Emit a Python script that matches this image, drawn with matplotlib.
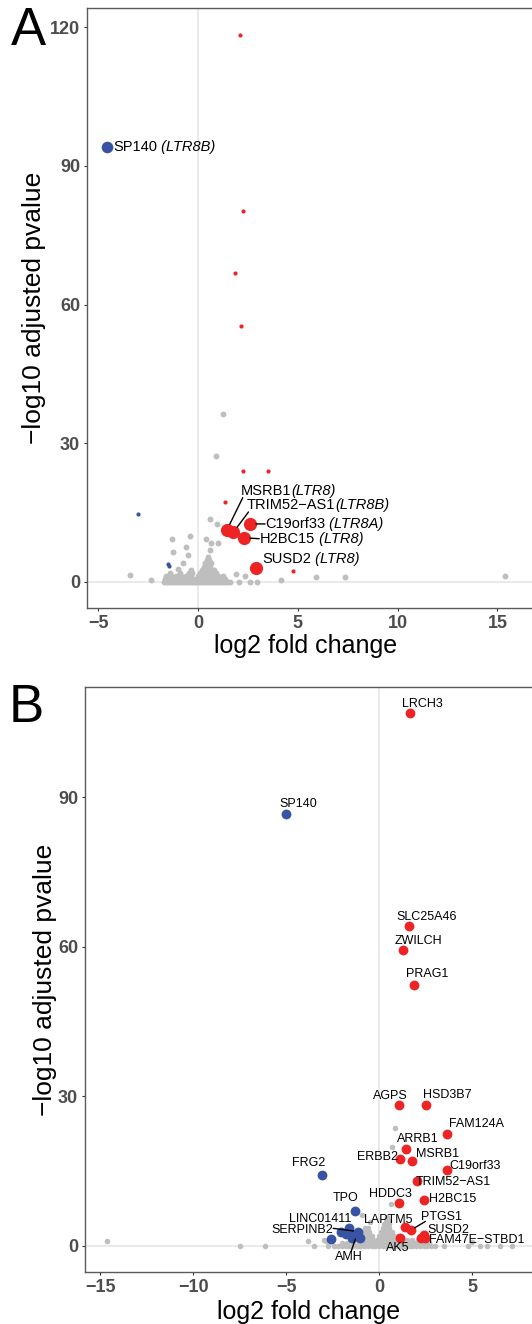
import matplotlib
matplotlib.use("Agg")
import matplotlib.pyplot as plt

plt.rcParams['font.family'] = ['Liberation Sans', 'DejaVu Sans']

RED = '#ee2324'
BLUE = '#3953a4'
GREY = '#bebebe'
TICK_GREY = '#4d4d4d'

# ---------------- panel A data ----------------
a_grey = [(-3.39, 1.4), (-2.35, 0.4), (-1.30, 9.3), (-1.27, 6.5), (-0.99, 2.7),
          (-0.77, 4.0), (-0.62, 7.6), (-0.50, 5.8), (-0.40, 9.8), (0.40, 9.3),
          (0.60, 6.9), (0.67, 8.4), (0.67, 4.0), (0.92, 27.2), (0.95, 12.4),
          (1.00, 8.4), (0.60, 13.6), (1.25, 36.4), (1.89, 1.7), (2.07, 0.0),
          (2.35, 1.2), (2.60, 0.0), (2.94, 0.0), (4.14, 0.4), (5.90, 1.0),
          (7.38, 1.0), (15.38, 1.2)]
a_cloud = [(-1.7, 0), (-1.6, 0), (-1.5, 0), (-1.4, 0), (-1.3, 0), (-1.2, 0), (-1.1, 0),
           (-1.0, 0), (-0.9, 0), (-0.8, 0), (-0.7, 0), (-0.6, 0), (-0.5, 0), (-0.4, 0),
           (-0.3, 0), (-0.2, 0), (-0.1, 0), (0.0, 0), (0.1, 0), (0.2, 0), (0.3, 0),
           (0.4, 0), (0.5, 0), (0.6, 0), (0.7, 0), (0.8, 0), (0.9, 0), (1.0, 0),
           (1.1, 0), (1.2, 0), (1.3, 0), (1.4, 0), (1.5, 0), (1.6, 0),
           (-1.65, 0.6), (-1.45, 0.6), (-1.25, 0.6), (-1.05, 0.6), (-0.85, 0.6),
           (-0.65, 0.6), (-0.45, 0.6), (-0.25, 0.6), (-0.05, 0.6), (0.15, 0.6),
           (0.35, 0.6), (0.55, 0.6), (0.75, 0.6), (0.95, 0.6), (1.15, 0.6), (1.35, 0.6),
           (-1.6, 1.2), (-1.35, 1.2), (-1.1, 1.2), (-0.85, 1.2), (-0.6, 1.2), (-0.35, 1.2),
           (0.0, 1.2), (0.2, 1.2), (0.4, 1.2), (0.6, 1.2), (0.8, 1.2), (1.0, 1.2), (1.25, 1.2),
           (-1.4, 1.8), (-0.9, 1.8), (-0.45, 1.8), (-0.3, 1.8), (0.1, 1.8), (0.3, 1.8),
           (0.5, 1.8), (0.7, 1.8), (0.9, 1.8),
           (-0.35, 2.5), (0.2, 2.5), (0.35, 2.5), (0.5, 2.5), (0.65, 2.5), (0.8, 2.5),
           (0.3, 3.2), (0.45, 3.2), (0.6, 3.2), (0.35, 4.0), (0.5, 4.0), (0.62, 4.0),
           (0.45, 4.8), (0.55, 4.8), (0.5, 5.4)]
a_red_x = [2.12, 2.27, 1.84, 2.14, 2.24, 3.52, 1.37, 4.74]
a_red_y = [118.4, 80.2, 66.9, 55.4, 24.0, 24.0, 17.3, 2.4]
a_blue_x = [-2.99, -1.52, -1.47]
a_blue_y = [14.6, 3.8, 3.3]

a_genes = ['SP140', 'MSRB1', 'TRIM52\u2212AS1', 'C19orf33', 'H2BC15', 'SUSD2']
a_te = [' (LTR8B)', '(LTR8)', '(LTR8B)', ' (LTR8A)', ' (LTR8)', ' (LTR8)']
a_hit_x = [-4.57, 1.45, 1.77, 2.59, 2.30, 2.91]
a_hit_y = [94.1, 11.2, 10.7, 12.5, 9.5, 3.0]
a_lab_x = [-4.26, 2.14, 2.44, 3.36, 3.07, 3.22]
a_lab_y = [94.1, 19.7, 16.6, 12.5, 9.3, 4.9]
a_leader = [None, (0.04, 0.0), (0.02, 0.0), (0.0, 0.5), (0.0, 0.5), None]

# ---------------- panel B data ----------------
b_grey = [(-14.66, 1.0), (-7.46, 0.0), (-6.14, 0.0), (-3.84, 1.1), (-3.50, 0.0),
          (-2.95, 1.2), (-2.85, 1.1), (-2.73, 0.0), (-0.93, 6.2), (-0.48, 4.8),
          (0.63, 8.4), (0.68, 19.9), (0.86, 23.7), (3.52, 0.0), (4.81, 0.0),
          (4.99, 0.7), (5.44, 0.0), (5.80, 0.0), (6.51, 0.0), (7.14, 0.0)]
b_cloud = [(-2.4, 0), (-2.2, 0), (-2.0, 0), (-1.8, 0), (-1.6, 0), (-1.4, 0), (-1.2, 0),
           (-1.0, 0), (-0.8, 0), (-0.6, 0), (-0.4, 0), (-0.2, 0), (0.0, 0), (0.2, 0),
           (0.4, 0), (0.6, 0), (0.8, 0), (1.0, 0), (1.2, 0), (1.4, 0), (1.6, 0), (1.8, 0),
           (2.0, 0), (2.2, 0), (2.4, 0), (2.6, 0), (2.8, 0), (3.0, 0),
           (-2.0, 0.6), (-1.7, 0.6), (-1.4, 0.6), (-1.1, 0.6), (-0.9, 0.6), (-0.7, 0.6),
           (-0.5, 0.6), (-0.3, 0.6), (-0.1, 0.6), (0.1, 0.6), (0.3, 0.6), (0.5, 0.6),
           (0.7, 0.6), (0.9, 0.6), (1.1, 0.6), (1.3, 0.6), (1.5, 0.6), (1.7, 0.6),
           (1.9, 0.6), (2.1, 0.6), (2.3, 0.6), (2.5, 0.6), (2.7, 0.6),
           (-1.5, 1.3), (-1.2, 1.3), (-0.95, 1.3), (-0.75, 1.3), (-0.55, 1.3), (-0.35, 1.3),
           (-0.1, 1.3), (0.1, 1.3), (0.3, 1.3), (0.5, 1.3), (0.7, 1.3), (0.9, 1.3),
           (1.2, 1.3), (1.5, 1.3), (1.8, 1.3), (2.1, 1.3),
           (-1.0, 2.0), (-0.8, 2.0), (-0.6, 2.0), (-0.4, 2.0), (0.0, 2.0), (0.2, 2.0),
           (0.4, 2.0), (0.6, 2.0), (0.8, 2.0), (1.0, 2.0),
           (-0.85, 2.8), (-0.7, 2.8), (-0.55, 2.8), (0.1, 2.8), (0.3, 2.8), (0.5, 2.8), (0.7, 2.8),
           (-0.75, 3.6), (-0.6, 3.6), (0.2, 3.6), (0.4, 3.6), (0.55, 3.6),
           (0.25, 4.4), (0.4, 4.4), (0.55, 4.4), (0.35, 5.2), (0.5, 5.2), (0.42, 5.9)]

b_red_genes = ['LRCH3', 'SLC25A46', 'ZWILCH', 'PRAG1', 'AGPS', 'HSD3B7', 'FAM124A',
               'ARRB1', 'ERBB2', 'MSRB1', 'C19orf33', 'TRIM52\u2212AS1', 'HDDC3',
               'H2BC15', 'LAPTM5', 'PTGS1', 'SUSD2', 'FAM47E\u2212STBD1', 'AK5']
b_red_x = [1.65, 1.63, 1.31, 1.88, 1.08, 2.53, 3.66, 1.45, 1.15, 1.78, 3.64, 2.05,
           1.06, 2.44, 1.42, 1.72, 2.24, 2.48, 1.13]
b_red_y = [106.9, 64.3, 59.3, 52.4, 28.3, 28.3, 22.5, 19.5, 17.4, 17.1, 15.2, 13.0,
           8.7, 9.2, 3.9, 3.2, 1.7, 1.6, 1.7]
b_red_lab_x = [2.35, 2.54, 2.12, 2.60, 0.63, 3.67, 5.24, 2.11, -0.10, 3.15, 5.19, 4.00,
               0.61, 3.95, 0.48, 3.38, 3.73, 5.26, 1.00]
b_red_lab_y = [108.7, 66.1, 61.2, 54.6, 30.0, 30.3, 24.5, 21.5, 17.9, 18.4, 16.1, 12.9,
               10.4, 9.4, 5.2, 5.9, 3.3, 1.3, -0.5]
b_red_extra_x = [2.40]
b_red_extra_y = [2.3]

b_blue_genes = ['SP140', 'FRG2', 'TPO', 'LINC01411', 'SERPINB2', 'AMH']
b_blue_x = [-4.99, -3.07, -1.27, -1.60, -1.15, -1.20]
b_blue_y = [86.7, 14.2, 7.0, 3.7, 2.9, 2.2]
b_blue_lab_x = [-4.34, -3.81, -1.79, -3.16, -4.13, -1.65]
b_blue_lab_y = [88.6, 16.7, 9.7, 5.4, 3.3, -2.3]
b_blue_extra_x = [-2.05, -2.58, -1.47, -1.35, -1.02, -1.75]
b_blue_extra_y = [2.9, 1.4, 1.7, 2.2, 1.7, 2.4]

# leader lines in panel B: gene -> anchor on the label box
b_leaders = {'SERPINB2': (1.0, 0.6), 'AMH': (0.6, 1.0), 'PTGS1': (0.1, 0.1)}


def style_axes(ax, xticks, yticks):
    for sp in ax.spines.values():
        sp.set_color('#5a5a5a')
        sp.set_linewidth(1.0)
    ax.set_xticks(xticks)
    ax.set_yticks(yticks)
    ax.tick_params(length=2.5, width=0.8, color='#333333', pad=2.5,
                   labelsize=13, labelcolor=TICK_GREY)
    for lab in ax.get_xticklabels() + ax.get_yticklabels():
        lab.set_fontweight('bold')
    ax.axhline(0, color='#e6e6e6', lw=1.2, zorder=0)
    ax.axvline(0, color='#e6e6e6', lw=1.2, zorder=0)


fig = plt.figure(figsize=(5.32, 13.24), dpi=100)

# ---------------- panel A ----------------
axA = fig.add_axes([87 / 532, 1 - 608 / 1324, 450 / 532, 600 / 1324])
axA.set_xlim(-5.56, 16.98)
axA.set_ylim(-5.7, 124.2)
style_axes(axA, [-5, 0, 5, 10, 15], [0, 30, 60, 90, 120])

axA.scatter([p[0] for p in a_cloud], [p[1] for p in a_cloud], s=18, color=GREY, lw=0, zorder=2)
axA.scatter([p[0] for p in a_grey], [p[1] for p in a_grey], s=18, color=GREY, lw=0, zorder=2)
axA.scatter(a_red_x, a_red_y, s=9, color=RED, lw=0, zorder=3)
axA.scatter(a_blue_x, a_blue_y, s=9, color=BLUE, lw=0, zorder=3)
axA.scatter(a_hit_x[1:], a_hit_y[1:], s=90, color=RED, lw=0, zorder=4)
axA.scatter(a_hit_x[:1], a_hit_y[:1], s=70, color=BLUE, lw=0, zorder=4)

for g, te, px, py, lx, ly, rel in zip(a_genes, a_te, a_hit_x, a_hit_y,
                                      a_lab_x, a_lab_y, a_leader):
    t = axA.text(lx, ly, g, ha='left', va='center', fontsize=10.5, zorder=5)
    axA.annotate(te, xy=(1, 0), xycoords=t, ha='left', va='bottom',
                 fontsize=10.5, style='italic', zorder=5)
    if rel is not None:
        axA.annotate('', xy=(px, py), xycoords='data', xytext=rel, textcoords=t,
                     arrowprops=dict(arrowstyle='-', color='black', lw=1.0,
                                     shrinkA=0, shrinkB=4.5), zorder=5)

# ---------------- panel B ----------------
axB = fig.add_axes([85 / 532, 1 - 1271.7 / 1324, 452 / 532, 584.4 / 1324])
axB.set_xlim(-15.82, 8.5)
axB.set_ylim(-5.16, 112.1)
style_axes(axB, [-15, -10, -5, 0, 5], [0, 30, 60, 90])

axB.scatter([p[0] for p in b_cloud], [p[1] for p in b_cloud], s=16, color=GREY, lw=0, zorder=2)
axB.scatter([p[0] for p in b_grey], [p[1] for p in b_grey], s=16, color=GREY, lw=0, zorder=2)
axB.scatter(b_blue_extra_x, b_blue_extra_y, s=50, color=BLUE, lw=0, zorder=3)
axB.scatter(b_blue_x, b_blue_y, s=50, color=BLUE, lw=0, zorder=3)
axB.scatter(b_red_extra_x, b_red_extra_y, s=50, color=RED, lw=0, zorder=3)
axB.scatter(b_red_x, b_red_y, s=50, color=RED, lw=0, zorder=3)

for genes, xs, ys, lxs, lys in [(b_red_genes, b_red_x, b_red_y, b_red_lab_x, b_red_lab_y),
                                (b_blue_genes, b_blue_x, b_blue_y, b_blue_lab_x, b_blue_lab_y)]:
    for g, px, py, lx, ly in zip(genes, xs, ys, lxs, lys):
        t = axB.text(lx, ly, g, ha='center', va='center', fontsize=9, zorder=5)
        if g in b_leaders:
            axB.annotate('', xy=(px, py), xycoords='data', xytext=b_leaders[g], textcoords=t,
                         arrowprops=dict(arrowstyle='-', color='black', lw=1.0,
                                         shrinkA=0, shrinkB=3), zorder=5)

# ---------------- labels ----------------
ylab = '\u2212log10 adjusted pvalue'
fig.text(34 / 532, 1 - 308 / 1324, ylab, rotation=90, ha='center', va='center', fontsize=19)
fig.text(45 / 532, 1 - 979.5 / 1324, ylab, rotation=90, ha='center', va='center', fontsize=19)
fig.text(306 / 532, 1 - 646 / 1324, 'log2 fold change', ha='center', va='center', fontsize=18)
fig.text(309 / 532, 1 - 1311.7 / 1324, 'log2 fold change', ha='center', va='center', fontsize=18)

fig.text(28 / 532, 1 - 31 / 1324, 'A', ha='center', va='center', fontsize=38)
fig.text(26 / 532, 1 - 708.5 / 1324, 'B', ha='center', va='center', fontsize=38)

fig.savefig('out.png', dpi=100)
